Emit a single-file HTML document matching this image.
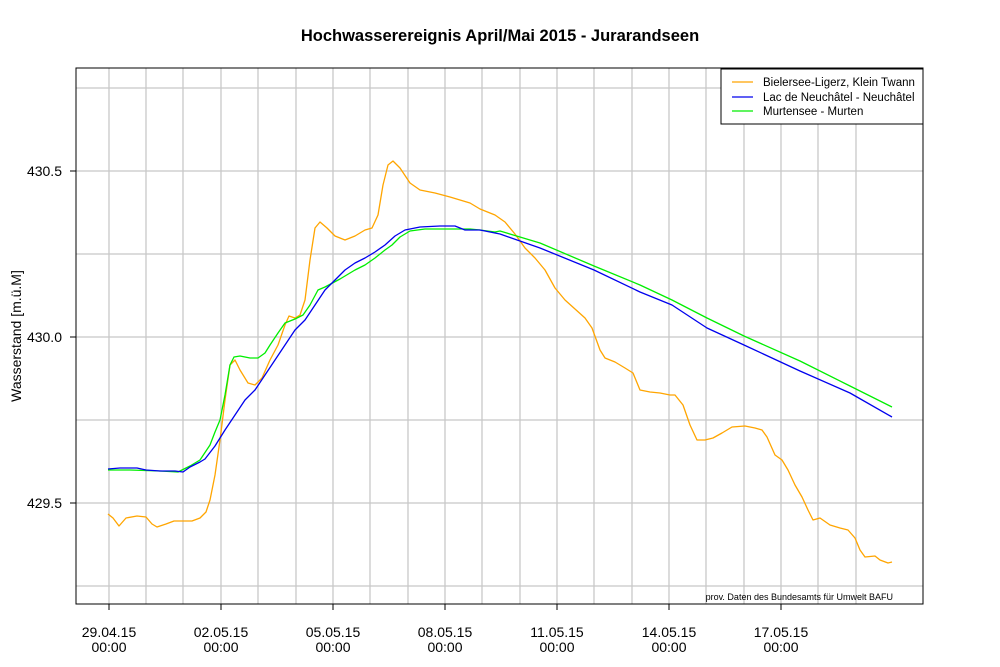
<!DOCTYPE html>
<html><head><meta charset="utf-8"><style>body{margin:0;background:#fff}svg{display:block}</style></head><body>
<svg width="1000" height="667" xmlns="http://www.w3.org/2000/svg" font-family="Liberation Sans, sans-serif">
<rect width="1000" height="667" fill="#fff"/>
<text x="500" y="41" text-anchor="middle" font-size="16.5" font-weight="bold">Hochwasserereignis April/Mai 2015 - Jurarandseen</text>
<g stroke="#c8c8c8" stroke-width="1.3">
<line x1="76" x2="923" y1="88" y2="88"/><line x1="76" x2="923" y1="171" y2="171"/><line x1="76" x2="923" y1="254" y2="254"/><line x1="76" x2="923" y1="337" y2="337"/><line x1="76" x2="923" y1="420" y2="420"/><line x1="76" x2="923" y1="503" y2="503"/><line x1="76" x2="923" y1="586" y2="586"/>
<line x1="109" x2="109" y1="68" y2="604"/><line x1="146" x2="146" y1="68" y2="604"/><line x1="183" x2="183" y1="68" y2="604"/><line x1="221" x2="221" y1="68" y2="604"/><line x1="258" x2="258" y1="68" y2="604"/><line x1="296" x2="296" y1="68" y2="604"/><line x1="333" x2="333" y1="68" y2="604"/><line x1="370" x2="370" y1="68" y2="604"/><line x1="408" x2="408" y1="68" y2="604"/><line x1="445" x2="445" y1="68" y2="604"/><line x1="482" x2="482" y1="68" y2="604"/><line x1="520" x2="520" y1="68" y2="604"/><line x1="557" x2="557" y1="68" y2="604"/><line x1="594" x2="594" y1="68" y2="604"/><line x1="632" x2="632" y1="68" y2="604"/><line x1="669" x2="669" y1="68" y2="604"/><line x1="706" x2="706" y1="68" y2="604"/><line x1="744" x2="744" y1="68" y2="604"/><line x1="781" x2="781" y1="68" y2="604"/><line x1="818" x2="818" y1="68" y2="604"/><line x1="856" x2="856" y1="68" y2="604"/>
</g>
<g fill="none" stroke-width="1.3" stroke-linejoin="round">
<polyline stroke="#ffa500" points="108,514 113,518 119,526 126,518 137,516 146,517 152,524 157,527 166,524 174,521 183,521 192,521 200,518 206,512 210,500 215,475 220,440 225,400 230,365 235,360 240,370 248,383 255,385 262,378 270,360 278,345 285,325 289,316 295,318 300,315 305,300 310,260 315,228 320,222 327,228 335,236 345,240 355,236 365,230 372,228 378,215 383,185 388,165 393,161 400,168 410,183 420,190 435,193 450,197 470,203 480,209 495,215 505,222 515,234 525,248 535,258 545,270 555,288 565,300 575,309 585,318 592,328 600,350 605,358 615,362 625,368 633,373 640,390 650,392 660,393 670,395 675,395 683,405 690,425 697,440 705,440 713,438 722,433 732,427 745,426 755,428 762,430 767,437 775,455 782,460 788,470 795,485 802,497 808,510 813,520 820,518 830,525 840,528 848,530 855,538 860,550 865,557 875,556 880,560 888,563 892,562"/>
<polyline stroke="#00ee00" points="108,470 130,470 160,471 178,472 190,466 200,460 210,445 215,432 220,420 225,395 230,365 234,357 240,356 250,358 258,358 265,353 270,345 278,333 285,323 295,319 303,315 310,305 318,290 325,287 340,279 355,270 365,265 375,258 385,250 392,245 400,237 410,231 425,229 445,229 470,229 480,230 495,232 500,231 540,243 594,266 640,285 672,300 707,318 744,336 800,361 850,386 892,407"/>
<polyline stroke="#0000ee" points="108,469 120,468 137,468 146,470 160,471 175,471 183,472 190,467 200,462 205,459 215,446 225,430 235,415 245,400 255,390 265,375 275,360 285,345 295,330 305,320 315,305 325,290 335,280 345,270 355,263 365,258 375,252 385,245 395,236 405,230 420,227 440,226 455,226 465,230 480,230 500,234 540,248 594,270 640,292 672,305 707,328 744,345 800,371 850,393 892,417"/>
</g>
<rect x="76" y="68" width="847" height="536" fill="none" stroke="#000" stroke-width="1"/>
<g stroke="#000"><line x1="70" x2="76" y1="171" y2="171"/><line x1="70" x2="76" y1="337" y2="337"/><line x1="70" x2="76" y1="503" y2="503"/>
<line x1="109" x2="109" y1="604" y2="610"/><line x1="221" x2="221" y1="604" y2="610"/><line x1="333" x2="333" y1="604" y2="610"/><line x1="445" x2="445" y1="604" y2="610"/><line x1="557" x2="557" y1="604" y2="610"/><line x1="669" x2="669" y1="604" y2="610"/><line x1="781" x2="781" y1="604" y2="610"/></g>
<g font-size="14" text-anchor="end"><text x="62" y="176">430.5</text><text x="62" y="342">430.0</text><text x="62" y="508">429.5</text></g>
<text transform="translate(21,336) rotate(-90)" font-size="14" text-anchor="middle">Wasserstand [m.ü.M]</text>
<g font-size="14" text-anchor="middle">
<text x="109" y="637">29.04.15</text><text x="109" y="652">00:00</text>
<text x="221" y="637">02.05.15</text><text x="221" y="652">00:00</text>
<text x="333" y="637">05.05.15</text><text x="333" y="652">00:00</text>
<text x="445" y="637">08.05.15</text><text x="445" y="652">00:00</text>
<text x="557" y="637">11.05.15</text><text x="557" y="652">00:00</text>
<text x="669" y="637">14.05.15</text><text x="669" y="652">00:00</text>
<text x="781" y="637">17.05.15</text><text x="781" y="652">00:00</text>
</g>
<text x="893" y="600" font-size="9" text-anchor="end">prov. Daten des Bundesamts für Umwelt BAFU</text>
<rect x="721" y="69" width="202" height="55" fill="#fff" stroke="#000"/>
<line x1="732" x2="753" y1="82" y2="82" stroke="#ffa500" stroke-width="1.3"/>
<line x1="732" x2="753" y1="97" y2="97" stroke="#0000ee" stroke-width="1.3"/>
<line x1="732" x2="753" y1="111" y2="111" stroke="#00ee00" stroke-width="1.3"/>
<g font-size="11.5"><text x="763" y="86">Bielersee-Ligerz, Klein Twann</text><text x="763" y="101">Lac de Neuchâtel - Neuchâtel</text><text x="763" y="115">Murtensee - Murten</text></g>
</svg>
</body></html>
